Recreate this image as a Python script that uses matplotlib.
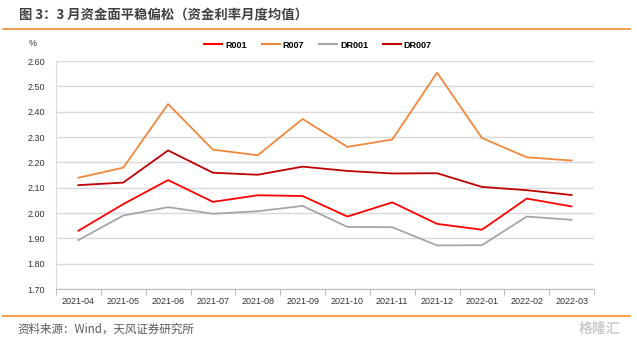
import matplotlib
matplotlib.use("Agg")
import matplotlib.pyplot as plt
from matplotlib.lines import Line2D

plt.rcParams['font.family'] = ['Liberation Sans', 'Noto Sans CJK SC', 'DejaVu Sans']
CJK = ['Noto Sans CJK SC', 'DejaVu Sans']

months = ["2021-04", "2021-05", "2021-06", "2021-07", "2021-08", "2021-09",
          "2021-10", "2021-11", "2021-12", "2022-01", "2022-02", "2022-03"]
r001 = [1.930, 2.035, 2.130, 2.044, 2.070, 2.067, 1.986, 2.042, 1.957, 1.934, 2.057, 2.026]
r007 = [2.139, 2.179, 2.430, 2.250, 2.228, 2.371, 2.261, 2.290, 2.554, 2.296, 2.220, 2.207]
dr001 = [1.893, 1.990, 2.023, 1.997, 2.007, 2.028, 1.945, 1.944, 1.872, 1.873, 1.986, 1.973]
dr007 = [2.110, 2.120, 2.247, 2.159, 2.151, 2.183, 2.166, 2.156, 2.157, 2.103, 2.090, 2.071]
yticks = [1.70, 1.80, 1.90, 2.00, 2.10, 2.20, 2.30, 2.40, 2.50, 2.60]

series = [("R001", r001, "#FF0000"), ("R007", r007, "#F0883C"),
          ("DR001", dr001, "#A6A6A6"), ("DR007", dr007, "#C00000")]

W, H = 637, 341
fig = plt.figure(figsize=(W/100, H/100), dpi=100)
ax = fig.add_axes([56/W, 1-289/H, (594-56)/W, (289-61)/H])

x = list(range(len(months)))
for name, vals, col in series:
    ax.plot(x, vals, color=col, lw=1.3, label=name)

ax.set_xlim(-0.5, len(months)-0.5)
ax.set_ylim(1.70, 2.60)
ax.set_yticks(yticks)
ax.set_yticklabels([f"{v:.2f}" for v in yticks], fontsize=6.5, color="#333333")
ax.set_xticks(x)
ax.set_xticklabels(months, fontsize=6.5, color="#333333")
ax.tick_params(axis='y', length=0, pad=8)
ax.tick_params(axis='x', length=0, pad=6)
ax.set_xticks([i-0.5 for i in range(len(months)+1)], minor=True)
ax.tick_params(axis='x', which='minor', length=4, color="#BFBFBF", width=0.8)

ax.grid(axis='y', color="#D9D9D9", lw=1.0)
ax.set_axisbelow(True)
for s in ["top", "right"]:
    ax.spines[s].set_visible(False)
ax.spines["left"].set_color("#D9D9D9")
ax.spines["bottom"].set_color("#BFBFBF")

handles = [Line2D([0], [0], color=c, lw=1.5) for _, _, c in series]
fig.legend(handles, [n for n, _, _ in series], loc="center", bbox_to_anchor=(318/W, 1-45/H),
           ncol=4, frameon=False, handlelength=2.0, columnspacing=1.6,
           handletextpad=0.35, prop={'weight': 'bold', 'size': 6.5})

fig.text(33/W, 1-44/H, "%", fontsize=6.5, color="#333333", ha="center", va="center")

fig.text(19/W, 1-15/H, "图 3：3 月资金面平稳偏松（资金利率月度均值）", fontsize=9.6,
         fontweight="bold", color="#404040", ha="left", va="center", family=CJK)
fig.add_artist(Line2D([3/W, 630/W], [1-29/H, 1-29/H], color="#F08A2C", lw=1.2))
fig.add_artist(Line2D([3/W, 630/W], [1-316/H, 1-316/H], color="#F08A2C", lw=1.2))
fig.text(17/W, 1-329/H, "资料来源：Wind，天风证券研究所", fontsize=8.3, color="#595959",
         ha="left", va="center", family=CJK)
fig.text(600/W, 1-329/H, "格隆汇", fontsize=10, color="#CCCCCC", ha="center", va="center",
         fontweight="bold", family=CJK)

fig.savefig("out.png", dpi=100, facecolor="white")
